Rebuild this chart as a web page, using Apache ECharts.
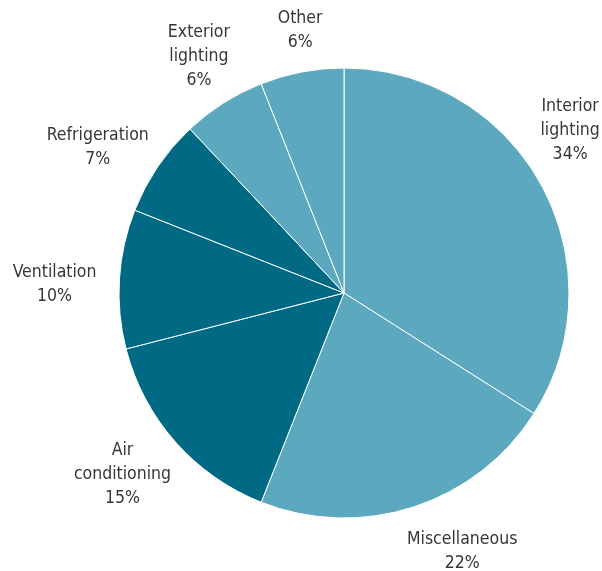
<!DOCTYPE html>
<html>
<head>
<meta charset="utf-8">
<script src="https://cdn.jsdelivr.net/npm/echarts@6/dist/echarts.min.js"></script>
<style>
  html, body { margin: 0; padding: 0; background: #fff; }
  #chart { width: 602px; height: 571px; }
</style>
</head>
<body>
<div id="chart"></div>
<script>
// End-use shares of electricity, clockwise from 12 o'clock
const categories = ['Interior\nlighting', 'Miscellaneous', 'Air\nconditioning', 'Ventilation', 'Refrigeration', 'Exterior\nlighting', 'Other'];
const shares = [34, 22, 15, 10, 7, 6, 6];
const groups = ['light', 'light', 'dark', 'dark', 'dark', 'light', 'light'];

// hand-tuned label nudges (px) on top of the radial placement
const labelNudge = [[-21, -27], [31, -10], [-10, -5], [-8, 9], [-13, 13], [6, 2], [9, 14]];

const palette = { light: '#5ca8be', dark: '#006a84' };
const CENTER = [344, 293];
const RADIUS = 225;
const LABEL_DIST = 282;

const total = shares.reduce((a, b) => a + b, 0);
// mid-angle of every slice (radians, clockwise from top)
const midAngles = [];
let acc = 0;
shares.forEach(v => {
  midAngles.push(((acc + v / 2) / total) * Math.PI * 2);
  acc += v;
});

const chart = echarts.init(document.getElementById('chart'), null, { renderer: 'canvas' });
chart.setOption({
  animation: false,
  series: [{
    type: 'pie',
    center: CENTER,
    radius: [0, RADIUS],
    startAngle: 90,
    clockwise: true,
    avoidLabelOverlap: false,
    data: categories.map((name, i) => ({
      name: name,
      value: shares[i],
      itemStyle: { color: palette[groups[i]] }
    })),
    itemStyle: { borderColor: '#ffffff', borderWidth: 1 },
    label: {
      show: true,
      position: 'inner',
      overflow: 'none',
      formatter: p => p.name + '\n' + p.value + '%',
      fontFamily: '"DejaVu Sans Condensed", "Roboto", sans-serif',
      fontSize: 17.5,
      lineHeight: 24,
      color: '#363636',
      align: 'center'
    },
    labelLine: { show: false },
    labelLayout: function (params) {
      const i = params.dataIndex;
      const a = midAngles[i];
      return {
        x: CENTER[0] + LABEL_DIST * Math.sin(a) + labelNudge[i][0],
        y: CENTER[1] - LABEL_DIST * Math.cos(a) + labelNudge[i][1],
        align: 'center',
        verticalAlign: 'middle',
        hideOverlap: false
      };
    }
  }]
});
</script>
</body>
</html>
